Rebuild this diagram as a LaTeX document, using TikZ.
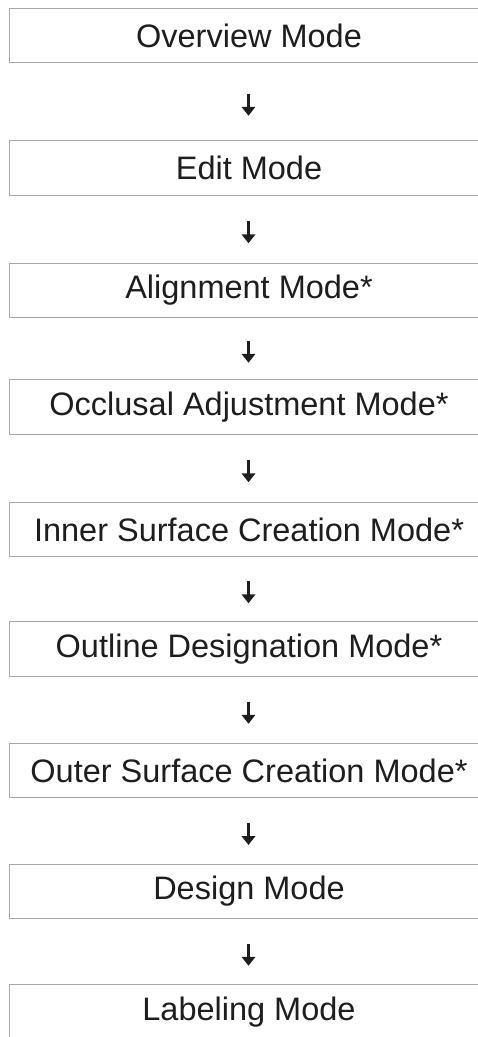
\documentclass[tikz,border=0pt]{standalone}
\usepackage{fontspec}
\setmainfont{Liberation Sans}
\usetikzlibrary{arrows.meta,calc}
\definecolor{boxline}{HTML}{A8A8A8}
\definecolor{txt}{HTML}{1E1E1E}
\tikzset{
  modebox/.style={draw=boxline, line width=1.3pt, minimum width=479pt, minimum height=54.5pt,
    inner sep=0pt, text=txt, font=\fontsize{32.5}{38}\selectfont, anchor=center},
  flowarrow/.style={line width=2.4pt, draw=txt, -{Triangle[width=13.5pt,length=9pt]}}
}
\begin{document}
\begin{tikzpicture}[x=1pt,y=-1pt]
\useasboundingbox (0,0) rectangle (478,1037);
\clip (0,0) rectangle (478,1037);
\fill[white] (0,0) rectangle (478,1037);
\node[modebox] (n1) at (249,35.5)  {Overview Mode};
\node[modebox] (n2) at (249,168)   {Edit Mode};
\node[modebox] (n3) at (249,290.5) {Alignment Mode*};
\node[modebox] (n4) at (249,407)   {Occlusal Adjustment Mode*};
\node[modebox] (n5) at (249,529.5) {Inner Surface Creation Mode*};
\node[modebox] (n6) at (249,649)   {Outline Designation Mode*};
\node[modebox] (n7) at (249,770.5) {Outer Surface Creation Mode*};
\node[modebox] (n8) at (249,891.5) {Design Mode};
\node[modebox] (n9) at (249,1012)  {Labeling Mode};
\foreach \a/\b in {n1/n2,n2/n3,n3/n4,n4/n5,n5/n6,n6/n7,n7/n8,n8/n9}{
  \coordinate (m) at ($(\a.south)!0.5!(\b.north)$);
  \draw[flowarrow] ($(m)+(-0.5,-8)$) -- ($(m)+(-0.5,14)$);
}
\end{tikzpicture}
\end{document}
